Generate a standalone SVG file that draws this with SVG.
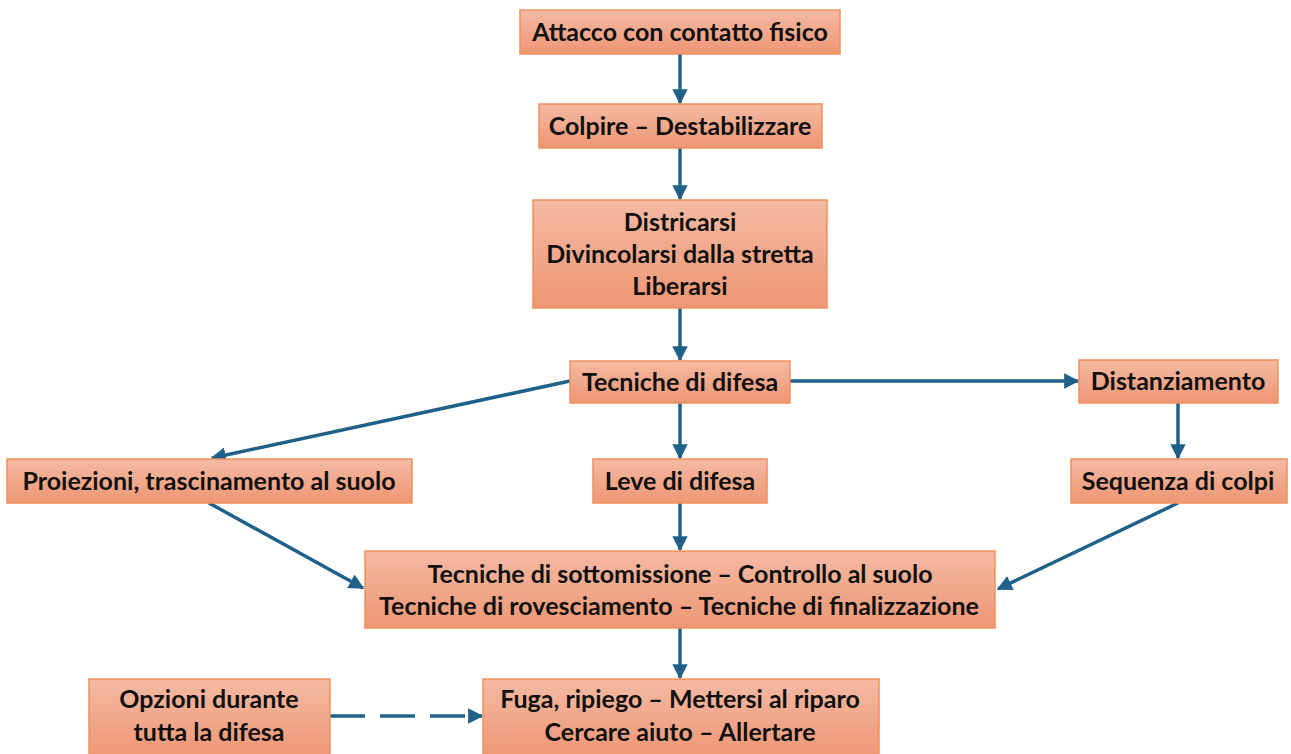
<svg xmlns="http://www.w3.org/2000/svg" width="1291" height="754" viewBox="0 0 1291 754">
<defs>
<linearGradient id="g" x1="0" y1="0" x2="0" y2="1">
<stop offset="0" stop-color="#F4BAA3"/>
<stop offset="1" stop-color="#EE9674"/>
</linearGradient>
<marker id="ah" viewBox="0 0 10 10" refX="9" refY="5" markerWidth="4.4" markerHeight="4.4" orient="auto" markerUnits="strokeWidth">
<path d="M0,0 L10,5 L0,10 z" fill="#1F6188"/>
</marker>
<style>
.box{fill:url(#g);stroke:#F0905C;stroke-width:1.5}
.t{font-family:Lato,"Open Sans",sans-serif;font-weight:bold;font-size:25px;fill:#111;text-anchor:middle}
.c{stroke:#1F6188;stroke-width:3.5;fill:none;marker-end:url(#ah)}
.d{stroke-dasharray:35,15}
</style>
</defs>
<rect width="1291" height="754" fill="#fff"/>
<g id="connectors">
<line class="c" x1="680" y1="54" x2="680" y2="103"/>
<line class="c" x1="680" y1="148" x2="680" y2="199"/>
<line class="c" x1="680" y1="308" x2="680" y2="360"/>
<line class="c" x1="790" y1="381" x2="1078" y2="381"/>
<line class="c" x1="680" y1="403" x2="680" y2="458"/>
<line class="c" x1="570" y1="381" x2="212" y2="458"/>
<line class="c" x1="1178" y1="403" x2="1178" y2="458"/>
<line class="c" x1="209" y1="503" x2="363" y2="588"/>
<line class="c" x1="680" y1="503" x2="680" y2="550"/>
<line class="c" x1="1178" y1="503" x2="998" y2="589"/>
<line class="c" x1="680" y1="628" x2="680" y2="678"/>
<line class="c d" x1="330" y1="716" x2="482" y2="716"/>
</g>
<g id="n1"><rect class="box" x="520" y="10" width="320" height="44"/><text class="t" x="680" y="41">Attacco con contatto fisico</text></g>
<g id="n2"><rect class="box" x="539" y="104" width="283" height="44"/><text class="t" x="680" y="135">Colpire – Destabilizzare</text></g>
<g id="n3"><rect class="box" x="533" y="200" width="294" height="108"/><text class="t" x="680" y="231">Districarsi</text><text class="t" x="680" y="263">Divincolarsi dalla stretta</text><text class="t" x="680" y="295">Liberarsi</text></g>
<g id="n4"><rect class="box" x="570" y="361" width="220" height="42"/><text class="t" x="680" y="391">Tecniche di difesa</text></g>
<g id="n5"><rect class="box" x="1079" y="360" width="199" height="43"/><text class="t" x="1178" y="390">Distanziamento</text></g>
<g id="n6"><rect class="box" x="7" y="459" width="405" height="44"/><text class="t" x="209" y="490">Proiezioni, trascinamento al suolo</text></g>
<g id="n7"><rect class="box" x="593" y="459" width="174" height="44"/><text class="t" x="680" y="490">Leve di difesa</text></g>
<g id="n8"><rect class="box" x="1071" y="459" width="216" height="44"/><text class="t" x="1178" y="490">Sequenza di colpi</text></g>
<g id="n9"><rect class="box" x="365" y="551" width="630" height="77"/><text class="t" x="680" y="583" textLength="505">Tecniche di sottomissione – Controllo al suolo</text><text class="t" x="679" y="615" textLength="600" lengthAdjust="spacingAndGlyphs">Tecniche di rovesciamento – Tecniche di finalizzazione</text></g>
<g id="n10"><rect class="box" x="89" y="679" width="241" height="80"/><text class="t" x="209" y="708">Opzioni durante</text><text class="t" x="209" y="741">tutta la difesa</text></g>
<g id="n11"><rect class="box" x="483" y="679" width="396" height="80"/><text class="t" x="680" y="708">Fuga, ripiego – Mettersi al riparo</text><text class="t" x="680" y="741">Cercare aiuto – Allertare</text></g>
</svg>
